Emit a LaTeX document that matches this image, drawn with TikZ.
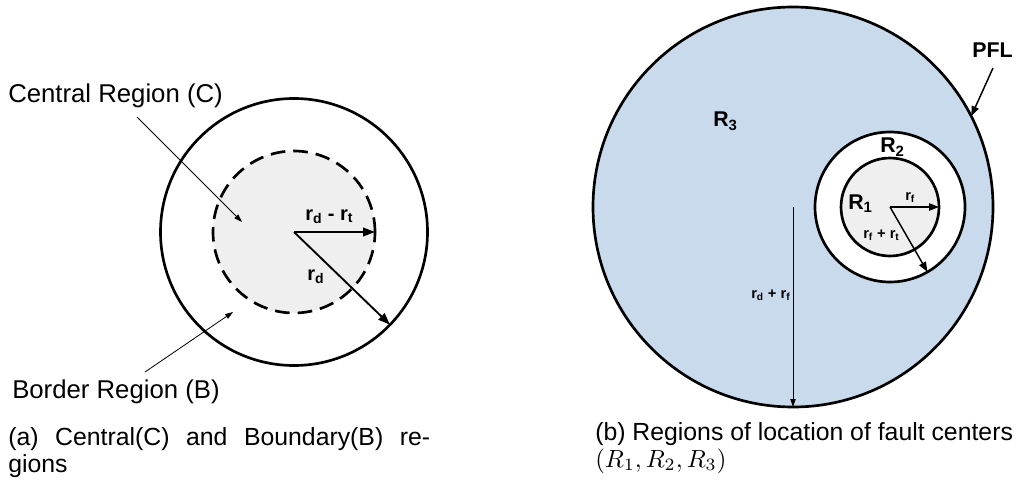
\documentclass[tikz,border=0pt]{standalone}
\usepackage{fontspec}
\setmainfont{Liberation Sans}
\usetikzlibrary{arrows.meta}
\definecolor{pflblue}{RGB}{202,218,237}
\definecolor{lgray}{RGB}{239,239,239}
\begin{document}
\begin{tikzpicture}[x=0.75pt,y=-0.75pt,
  ring/.style={circle,draw,line width=2pt,inner sep=0pt,outer sep=0pt},
  dashring/.style={ring,dash pattern=on 11pt off 6pt},
  bigarrow/.style={line width=1.4pt,-{Triangle[length=9pt,width=6.5pt]}},
  medarrow/.style={line width=1.1pt,-{Triangle[length=7.5pt,width=5.5pt]}},
  thinarrow/.style={line width=0.6pt,-{Triangle[length=6pt,width=4pt]}},
  lbl/.style={font=\fontsize{19.3pt}{22pt}\selectfont,anchor=base west,inner sep=0pt},
  captxt/.style={font=\fontsize{18.6pt}{22pt}\selectfont,anchor=base west,inner sep=0pt},
  blbl/.style={font=\bfseries\fontsize{16pt}{19pt}\selectfont,anchor=base west,inner sep=0pt},
  mlbl/.style={font=\bfseries\fontsize{15pt}{18pt}\selectfont,anchor=base west,inner sep=0pt},
  slbl/.style={font=\bfseries\fontsize{11pt}{13pt}\selectfont,anchor=base west,inner sep=0pt}]
\useasboundingbox (0,0) rectangle (1020,481);

% ---------- (a) ----------
\node[ring,fill=white,minimum size=200.25pt] (outA) at (294,232) {};
\node[dashring,fill=lgray,minimum size=121.5pt] (cenA) at (294,232) {};
\coordinate (oA) at (294,232);
\draw[bigarrow] (oA) -- (cenA.east);
\draw[bigarrow] (oA) -- (outA.-44);
\node[mlbl] (rdrt) at (305,220) {r\textsubscript{d} - r\textsubscript{t}};
\node[mlbl] (rd) at (307,280) {r\textsubscript{d}};

\node[lbl] (central) at (8,103) {Central Region (C)};
\coordinate (cT) at (137,117);
\coordinate (cH) at (242,222);
\draw[thinarrow] (cT) -- (cH);
\node[lbl] (border) at (12,398) {Border Region (B)};
\coordinate (bT) at (145,372);
\coordinate (bH) at (233,312);
\draw[thinarrow] (bT) -- (bH);

\node[captxt] (capa1) at (8,445) {\makebox[316.5pt][s]{(a) Central(C) and Boundary(B) re-}};
\node[captxt] (capa2) at (8,472) {gions};

% ---------- (b) ----------
\node[ring,fill=pflblue,minimum size=300pt] (outB) at (793,207) {};
\node[ring,fill=white,minimum size=112.5pt] (midB) at (890,207) {};
\node[ring,fill=lgray,minimum size=73.5pt] (inB) at (890,207) {};
\coordinate (oB) at (890,207);
\draw[medarrow] (oB) -- (inB.east);
\draw[medarrow] (oB) -- (midB.-60);
\coordinate (oV) at (793,207);
\draw[thinarrow] (oV) -- (outB.south);
\coordinate (pflT) at (993,68);
\draw[medarrow] (pflT) -- (outB.27.5);

\node[blbl] (pfl) at (972,58) {PFL};
\node[blbl] (r3) at (713,127) {R\textsubscript{3}};
\node[blbl] (r2) at (880,153) {R\textsubscript{2}};
\node[blbl] (r1) at (848,209) {R\textsubscript{1}};
\node[slbl] (rf) at (905,200) {r\textsubscript{f}};
\node[slbl] (rfrt) at (863,238) {r\textsubscript{f} + r\textsubscript{t}};
\node[slbl] (rdrf) at (751,298) {r\textsubscript{d} + r\textsubscript{f}};

\node[captxt] (capb1) at (595,440) {(b) Regions of location of fault centers};
\node[captxt] (capb2) at (595,467) {\scalebox{1.86}{\normalsize$(R_1,R_2,R_3)$}};
\end{tikzpicture}
\end{document}
